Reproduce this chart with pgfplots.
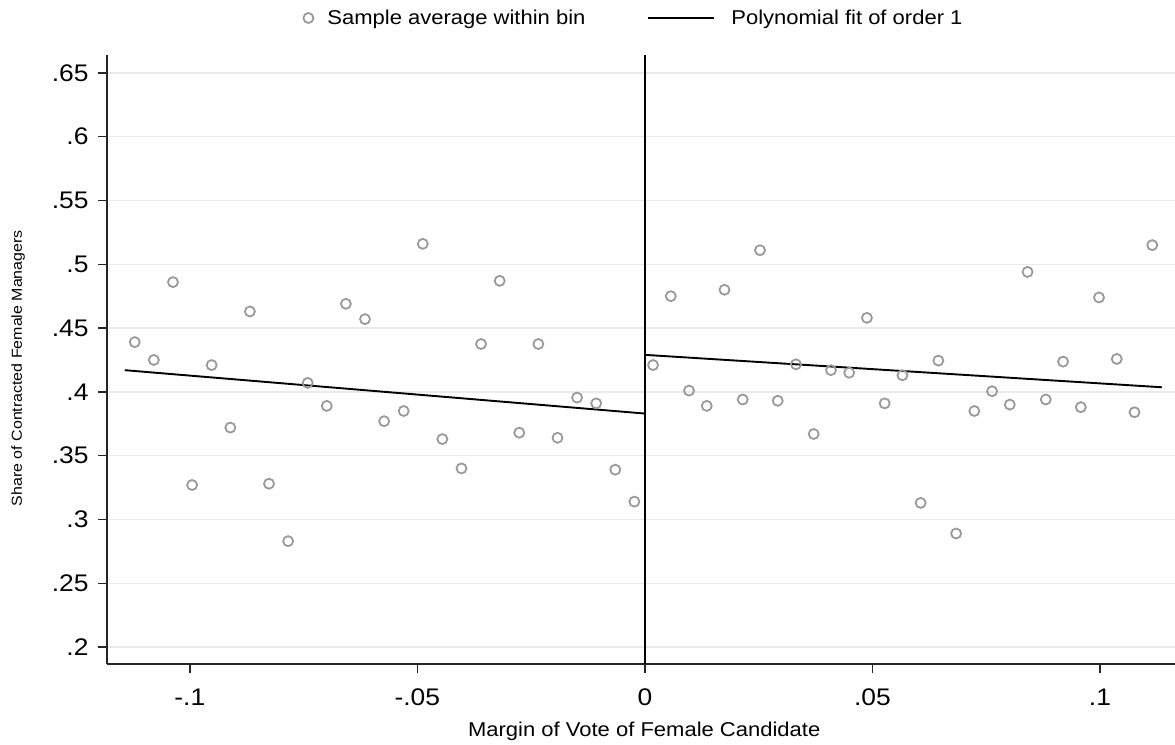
\documentclass[border=0pt]{standalone}
\usepackage{fontspec}
\setmainfont[FakeStretch=1.1]{Liberation Sans}
\usepackage{pgfplots}
\pgfplotsset{compat=1.18}

\definecolor{dotgray}{HTML}{9A9A9A}
\definecolor{gridgray}{HTML}{EAEAEA}

\pgfplotsset{longline legend/.style={legend image code/.code={\draw[##1] (0pt,0pt) -- (66pt,0pt);}}}

\begin{document}
\begin{tikzpicture}
\begin{axis}[
    name=ax,
    scale only axis,
    width=1068pt, height=609.3pt,
    xmin=-0.1182, xmax=0.1165,
    ymin=0.1865, ymax=0.664,
    axis x line*=bottom,
    axis y line*=left,
    axis line style={line width=1.8pt, black!85},
    xtick={-0.1,-0.05,0,0.05,0.1},
    xticklabels={-.1,-.05,0,.05,.1},
    ytick={0.2,0.25,0.3,0.35,0.4,0.45,0.5,0.55,0.6,0.65},
    yticklabels={.2,.25,.3,.35,.4,.45,.5,.55,.6,.65},
    tick align=outside,
    major tick length=9pt,
    tick style={line width=1.5pt, black!85},
    ticklabel style={font=\fontsize{24}{24}\selectfont},
    xticklabel style={yshift=-12pt},
    yticklabel style={xshift=-6pt},
    ymajorgrids,
    grid style={line width=1.3pt, gridgray},
    xlabel={Margin of Vote of Female Candidate},
    ylabel={Share of Contracted Female Managers},
    xlabel style={font=\fontsize{20}{20}\selectfont,
        at={(axis description cs:0.503,-0.1193)}, anchor=base},
    ylabel style={font=\fontsize{14.5}{14.5}\selectfont,
        at={(axis description cs:-0.0833,0.486)}, anchor=center},
    legend columns=2,
    legend style={at={(0.4934,1.0607)}, anchor=center, draw=none, fill=none,
        font=\fontsize{20}{20}\selectfont,
        /tikz/every even column/.append style={column sep=60pt}},
]
\addplot[only marks, mark=o, mark size=5pt, dotgray, line width=1.8pt] coordinates {
(-0.1121,0.439) (-0.1079,0.425) (-0.1037,0.486) (-0.0995,0.327) (-0.0952,0.421)
(-0.0911,0.372) (-0.0868,0.463) (-0.0826,0.328) (-0.0784,0.283) (-0.0741,0.407)
(-0.0699,0.389) (-0.0657,0.469) (-0.0615,0.457) (-0.0573,0.377) (-0.0530,0.385)
(-0.0488,0.516) (-0.0445,0.363) (-0.0403,0.340) (-0.0360,0.4375) (-0.0319,0.487)
(-0.0276,0.368) (-0.0234,0.4375) (-0.0192,0.364) (-0.0149,0.3955) (-0.0107,0.391)
(-0.0065,0.339) (-0.0023,0.314)
};
\addlegendentry{\hspace{12pt}Sample average within bin}
\addplot[only marks, mark=o, mark size=5pt, dotgray, line width=1.8pt, forget plot] coordinates {
(0.0018,0.421) (0.0057,0.475) (0.0097,0.401) (0.0136,0.389) (0.0175,0.480)
(0.0215,0.394) (0.0253,0.511) (0.0292,0.393) (0.0332,0.4216) (0.0371,0.367)
(0.0409,0.417) (0.0449,0.415) (0.0488,0.458) (0.0527,0.391) (0.0566,0.413)
(0.0606,0.313) (0.0645,0.4245) (0.0684,0.289) (0.0724,0.385) (0.0763,0.4005)
(0.0802,0.390) (0.0841,0.494) (0.0881,0.394) (0.0919,0.4237) (0.0958,0.388)
(0.0998,0.474) (0.1037,0.4258) (0.1076,0.384) (0.1115,0.515)
};
\addplot[black, line width=1.9pt, longline legend] coordinates {(-0.1143,0.417) (0,0.383)};
\addlegendentry{\hspace{14pt}Polynomial fit of order 1}
\addplot[black, line width=1.9pt, forget plot] coordinates {(0,0.429) (0.1136,0.4036)};
\addplot[black, line width=1.6pt, forget plot] coordinates {(0,0.1865) (0,0.664)};
\end{axis}
\pgfresetboundingbox
\path ([shift={(-107pt,-80.7pt)}]ax.south west) rectangle ([shift={(0pt,55pt)}]ax.north east);
\end{tikzpicture}
\end{document}
